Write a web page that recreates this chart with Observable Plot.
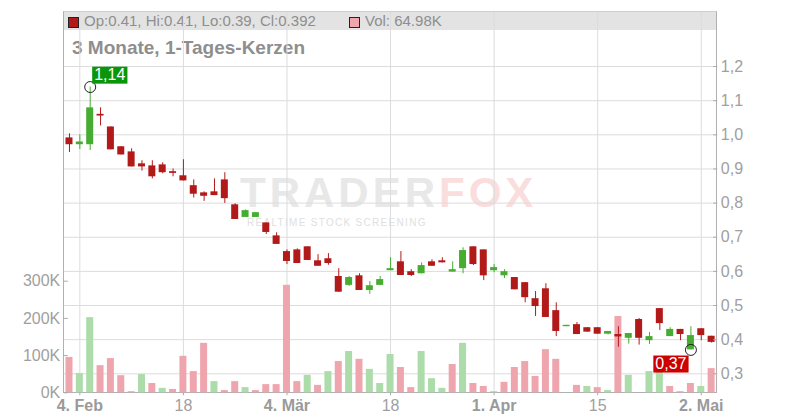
<!DOCTYPE html>
<html><head><meta charset="utf-8">
<script src="https://cdn.jsdelivr.net/npm/d3@7"></script>
<script src="https://cdn.jsdelivr.net/npm/@observablehq/plot@0.6"></script>
<style>
html,body{margin:0;padding:0;background:#fff;}
#wrap{position:relative;width:800px;height:420px;overflow:hidden;font-family:"Liberation Sans",Arial,sans-serif;}
#wrap > *{position:absolute;}
#frame{left:63px;top:11px;width:652px;height:380px;border-top:1px solid #cfcfcf;border-left:1px solid #b0b0b0;border-right:1px solid #b0b0b0;border-bottom:1px solid #b0b0b0;}
#hdr{left:64px;top:12px;width:652px;height:18px;background:#e3e3e3;}
.sq{top:17px;width:9px;height:9px;border:1px solid #222;}
.hdrtxt{top:12px;height:18px;line-height:18px;font-size:15px;color:#8e8e8e;white-space:nowrap;}
#title{left:72px;top:37px;line-height:22px;font-size:19px;font-weight:bold;color:#8e8e8e;white-space:nowrap;}
.layer{left:0;top:0;}
</style></head><body>
<div id="wrap">
  <div id="hdr"></div>
  <svg id="wm" class="layer" width="800" height="420"></svg>
  <div id="frame"></div>
  <div class="sq" id="sq1" style="left:68px;background:#b21a1a"></div>
  <div class="hdrtxt" id="ohlc" style="left:84px"></div>
  <div class="sq" id="sq2" style="left:349px;background:#efa5ae"></div>
  <div class="hdrtxt" id="vol" style="left:365px"></div>
  <div id="title"></div>
</div>
<script>
// ---- data (one entry per trading day) ----
const open  = [0.991,0.971,0.971,1.060,1.023,0.965,0.950,0.915,0.909,0.912,0.892,0.880,0.851,0.830,0.833,0.868,0.795,0.758,0.758,0.742,0.704,0.658,0.663,0.672,0.631,0.637,0.585,0.559,0.587,0.544,0.559,0.602,0.628,0.599,0.593,0.628,0.631,0.598,0.608,0.672,0.663,0.602,0.587,0.582,0.567,0.520,0.549,0.485,0.438,0.444,0.435,0.435,0.416,0.415,0.404,0.459,0.397,0.491,0.409,0.430,0.370,0.432,0.410];
const high  = [1.003,1.000,1.140,1.079,1.023,0.965,0.959,0.924,0.924,0.918,0.900,0.927,0.868,0.833,0.871,0.889,0.798,0.780,0.772,0.742,0.713,0.663,0.666,0.672,0.649,0.652,0.608,0.585,0.593,0.570,0.585,0.640,0.658,0.605,0.625,0.634,0.640,0.628,0.669,0.672,0.663,0.620,0.605,0.582,0.567,0.541,0.564,0.508,0.442,0.450,0.435,0.435,0.424,0.438,0.418,0.462,0.421,0.491,0.435,0.430,0.438,0.432,0.410];
const low   = [0.948,0.957,0.954,1.026,0.956,0.941,0.906,0.894,0.871,0.886,0.877,0.865,0.815,0.805,0.822,0.799,0.752,0.758,0.758,0.708,0.679,0.620,0.623,0.632,0.615,0.618,0.539,0.556,0.544,0.533,0.559,0.602,0.588,0.585,0.593,0.615,0.625,0.598,0.593,0.617,0.573,0.596,0.579,0.546,0.508,0.468,0.465,0.409,0.438,0.415,0.422,0.416,0.414,0.378,0.387,0.384,0.386,0.427,0.409,0.397,0.370,0.397,0.390];
const close = [0.971,0.979,1.079,1.055,0.956,0.941,0.906,0.906,0.877,0.889,0.887,0.865,0.826,0.820,0.822,0.813,0.752,0.778,0.772,0.714,0.679,0.629,0.623,0.632,0.615,0.623,0.539,0.582,0.544,0.558,0.576,0.608,0.588,0.588,0.617,0.615,0.625,0.605,0.661,0.620,0.587,0.611,0.599,0.546,0.523,0.497,0.465,0.424,0.442,0.415,0.422,0.416,0.424,0.408,0.418,0.404,0.409,0.447,0.430,0.415,0.412,0.412,0.392];
const volumeK = [95,52,202,73,92,46,3,49,25,12,9,98,57,133,30,6,30,14,6,22,22,289,30,47,20,57,84,111,90,63,25,103,68,14,111,38,12,76,133,25,17,3,28,68,84,44,116,90,0,20,17,14,6,205,47,0,57,57,17,3,25,17,64.98];
const volumeUp = [0,1,1,0,0,0,0,1,0,1,0,0,0,0,1,0,0,1,0,0,0,0,0,1,0,1,0,1,0,1,1,1,0,0,1,1,1,0,1,0,0,1,0,0,0,0,0,0,0,0,1,0,1,0,1,0,1,1,0,0,0,1,0];
const tickIdx    = [1,11,21,31,41,51,61];
const tickLabels = ["4. Feb","18","4. Mär","18","1. Apr","15","2. Mai"];
const tickBold   = [1,0,1,0,1,0,1];
const priceTicks = [0.3,0.4,0.5,0.6,0.7,0.8,0.9,1.0,1.1,1.2];
const volTicks   = [0,100000,200000,300000];
const headerText = "Op:0.41, Hi:0.41, Lo:0.39, Cl:0.392";
const volText    = "Vol: 64.98K";
const titleText  = "3 Monate, 1-Tages-Kerzen";
const markName   = ["TRADER","FOX"];
const markSub    = "REALTIME STOCK SCREENING";

// ---- styling ----
const RED = "#b21a1a", GREEN = "#46ad32", VRED = "#efa5ae", VGREEN = "#acdcaa";
const N = open.length;
const candles = d3.range(N).map(i => ({i, o: open[i], h: high[i], l: low[i], c: close[i]}));
const vols = d3.range(N).map(i => ({i, v: volumeK[i] * 1000, up: volumeUp[i]}));
const labelOf = new Map(tickIdx.map((t, k) => [t, tickLabels[k]]));
const fmt = v => v.toFixed(2).replace(".", ",");

const common = {
  width: 800, height: 420,
  marginLeft: 63.8, marginRight: 83.7, marginTop: 12, marginBottom: 27.7,
  x: {type: "band", domain: d3.range(N), paddingInner: 0.324, paddingOuter: 0.162, round: false, axis: null},
  style: {background: "transparent", fontFamily: "'Liberation Sans', Arial, sans-serif", fontSize: "16px", overflow: "visible"}
};
const priceY = {domain: [0.24435, 1.3583], axis: null};
const volY = {domain: [0, 1022300], axis: null};

const wrap = document.getElementById("wrap");
function addLayer(svg) { svg.classList.add("layer"); svg.style.position = "absolute"; svg.style.left = "0"; svg.style.top = "0"; wrap.appendChild(svg); return svg; }

// grid layer
addLayer(Plot.plot({...common, y: priceY, marks: [
  Plot.gridY({ticks: priceTicks, stroke: "#dcdcdc", strokeOpacity: 1}),
  Plot.gridX({ticks: tickIdx, stroke: "#dcdcdc", strokeOpacity: 1})
]}));

// volume layer
addLayer(Plot.plot({...common, y: volY, marks: [
  Plot.barY(vols, {x: "i", y: "v", fill: d => d.up ? VGREEN : VRED}),
  Plot.axisY({anchor: "left", label: null, ticks: volTicks, tickFormat: d => (d / 1000) + "K", tickSize: -4, tickPadding: 8, stroke: "#aaa", fill: "#a0a0a0", fontSize: 16}),
  Plot.axisX({label: null, ticks: tickIdx.filter((t, k) => tickBold[k]), tickFormat: d => labelOf.get(d), tickSize: 3, tickPadding: 4, stroke: "#aaa", fill: "#9a9a9a", fontSize: 16, fontWeight: "bold"}),
  Plot.axisX({label: null, ticks: tickIdx.filter((t, k) => !tickBold[k]), tickFormat: d => labelOf.get(d), tickSize: 3, tickPadding: 4, stroke: "#aaa", fill: "#a0a0a0", fontSize: 16})
]}));

// price layer
const hiPt = d3.greatest(candles, d => d.h);
const loPt = d3.least(candles, d => d.l);
const priceSvg = addLayer(Plot.plot({...common, y: priceY, marks: [
  Plot.ruleX(candles, {x: "i", y1: "l", y2: "h", stroke: d => d.c >= d.o ? GREEN : RED, strokeWidth: 1}),
  Plot.barY(candles, {x: "i", y1: d => Math.min(d.o, d.c), y2: d => Math.max(d.o, d.c), fill: d => d.c >= d.o ? GREEN : RED}),
  Plot.axisY({anchor: "right", label: null, ticks: priceTicks, tickFormat: d => d.toFixed(1).replace(".", ","), tickSize: -4, tickPadding: 8, stroke: "#aaa", fill: "#a0a0a0", fontSize: 16}),
  Plot.dot([hiPt], {x: "i", y: "h", r: 5.5, stroke: "#222", fill: "none", strokeWidth: 1}),
  Plot.dot([loPt], {x: "i", y: "l", r: 5.5, stroke: "#222", fill: "none", strokeWidth: 1}),
  Plot.text([hiPt], {x: "i", y: "h", text: d => fmt(d.h), dx: 4, dy: -12, textAnchor: "start", fill: "white", fontSize: 16}),
  Plot.text([loPt], {x: "i", y: "l", text: d => fmt(d.l), dx: -20, dy: 14, textAnchor: "middle", fill: "white", fontSize: 16})
]}));

function boxify(svg, label, color) {
  d3.select(svg).selectAll("text").filter(function () { return this.textContent === label; }).each(function () {
    const b = this.getBBox();
    const r = document.createElementNS("http://www.w3.org/2000/svg", "rect");
    r.setAttribute("x", b.x - 2); r.setAttribute("y", b.y + 0.5);
    r.setAttribute("width", b.width + 4); r.setAttribute("height", b.height);
    r.setAttribute("fill", color);
    if (this.getAttribute("transform")) r.setAttribute("transform", this.getAttribute("transform"));
    this.parentNode.insertBefore(r, this);
  });
}
boxify(priceSvg, fmt(hiPt.h), "#0a960a");
boxify(priceSvg, fmt(loPt.l), "#cc0000");

// header + title
document.getElementById("ohlc").textContent = headerText;
document.getElementById("vol").textContent = volText;
document.getElementById("title").textContent = titleText;

// watermark
const wm = d3.select("#wm");
const t = wm.append("text").attr("x", 240).attr("y", 207).attr("font-family", "'Liberation Sans', Arial, sans-serif")
  .attr("font-weight", "bold").attr("font-size", 42).attr("letter-spacing", 4);
t.append("tspan").attr("fill", "#e8e8e8").text(markName[0]);
t.append("tspan").attr("fill", "#fadede").text(markName[1]);
wm.append("text").attr("x", 247).attr("y", 225.5).attr("font-family", "'Liberation Sans', Arial, sans-serif")
  .attr("font-size", 10).attr("letter-spacing", 1.3).attr("fill", "#e0e0e0").text(markSub);
</script>
</body></html>
